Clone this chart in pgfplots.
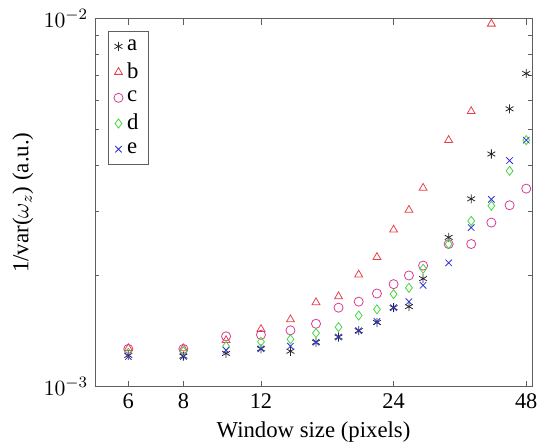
\documentclass[border=0pt]{standalone}
\usepackage{fontspec}
\setmainfont{Liberation Serif}
\usepackage{pgfplots}
\pgfplotsset{compat=1.18}

\definecolor{ca}{RGB}{40,40,40}
\definecolor{cb}{RGB}{232,64,72}
\definecolor{cc}{RGB}{214,60,150}
\definecolor{cd}{RGB}{70,214,60}
\definecolor{ce}{RGB}{50,50,210}
\definecolor{frame}{RGB}{95,95,95}

\begin{document}
\begin{tikzpicture}
  \begin{axis}[scale only axis, width=221pt, height=185.85pt,
      xmode=log, ymode=log, log basis x=2,
      xmin=5.04, xmax=49.5, ymin=1e-3, ymax=1e-2,
      xtick={6,8,12,24,48}, xticklabels={6,8,12,24,48}, xminorticks=false,
      ytick={1e-3,1e-2}, yticklabels={$10^{-3}$,$10^{-2}$},
      minor ytick={2e-3,3e-3,4e-3,5e-3,6e-3,7e-3,8e-3,9e-3},
      tick align=inside, major tick length=3pt, minor tick length=2pt,
      axis line style={frame}, every tick/.style={frame},
      tick label style={font=\fontsize{11.3}{13}\selectfont},
      xlabel={Window size (pixels)},
      ylabel={1/var($\omega_z$) (a.u.)},
      every axis x label/.style={at={(axis description cs:0.5,0)}, anchor=base,
        yshift=-25.6pt, font=\fontsize{11.5}{13}\selectfont},
      every axis y label/.style={at={(axis description cs:0,0.5)}, rotate=90,
        anchor=center, yshift=36.5pt, font=\fontsize{11.6}{14}\selectfont},
      legend style={at={(0,1)}, anchor=north west, xshift=6.4pt, yshift=-6.3pt,
        draw=frame, font=\fontsize{11.5}{13}\selectfont, inner xsep=3pt, inner ysep=2pt,
        row sep=0.8pt, cells={anchor=west}},
      legend cell align=left,
      mark size=2.3pt]
    \addplot[only marks, mark=asterisk, ca] coordinates {
      (6,1.215e-3) (8,1.209e-3) (10,1.230e-3) (12,1.266e-3) (14,1.247e-3)
      (16,1.319e-3) (18,1.363e-3) (20,1.418e-3) (22,1.493e-3) (24,1.638e-3)
      (26,1.649e-3) (28,1.965e-3) (32,2.544e-3) (36,3.238e-3) (40,4.288e-3)
      (44,5.690e-3) (48,7.10e-3)};
    \addlegendentry{a}
    \addplot[only marks, mark=triangle, cb] coordinates {
      (6,1.27e-3) (8,1.268e-3) (10,1.335e-3) (12,1.432e-3) (14,1.521e-3)
      (16,1.693e-3) (18,1.757e-3) (20,2.014e-3) (22,2.247e-3) (24,2.668e-3)
      (26,3.020e-3) (28,3.467e-3) (32,4.677e-3) (36,5.603e-3) (40,9.69e-3)};
    \addlegendentry{b}
    \addplot[only marks, mark=o, cc] coordinates {
      (6,1.265e-3) (8,1.265e-3) (10,1.369e-3) (12,1.382e-3) (14,1.421e-3)
      (16,1.481e-3) (18,1.638e-3) (20,1.701e-3) (22,1.790e-3) (24,1.898e-3)
      (26,2.004e-3) (28,2.132e-3) (32,2.440e-3) (36,2.440e-3) (40,2.791e-3)
      (44,3.111e-3) (48,3.452e-3)};
    \addlegendentry{c}
    \addplot[only marks, mark=diamond, cd] coordinates {
      (6,1.235e-3) (8,1.247e-3) (10,1.287e-3) (12,1.323e-3) (14,1.344e-3)
      (16,1.397e-3) (18,1.450e-3) (20,1.559e-3) (22,1.621e-3) (24,1.783e-3)
      (26,1.855e-3) (28,2.090e-3) (32,2.440e-3) (36,2.820e-3) (40,3.101e-3)
      (44,3.859e-3) (48,4.677e-3)};
    \addlegendentry{d}
    \addplot[only marks, mark=x, ce] coordinates {
      (6,1.206e-3) (8,1.206e-3) (10,1.255e-3) (12,1.266e-3) (14,1.287e-3)
      (16,1.319e-3) (18,1.363e-3) (20,1.418e-3) (22,1.502e-3) (24,1.638e-3)
      (26,1.701e-3) (28,1.884e-3) (32,2.169e-3) (36,2.706e-3) (40,3.228e-3)
      (44,4.116e-3) (48,4.677e-3)};
    \addlegendentry{e}
  \end{axis}
  \pgfresetboundingbox
  \path ([xshift=-48pt, yshift=-29.65pt]current axis.south west)
    rectangle ([xshift=5.5pt, yshift=9.5pt]current axis.north east);
\end{tikzpicture}
\end{document}
